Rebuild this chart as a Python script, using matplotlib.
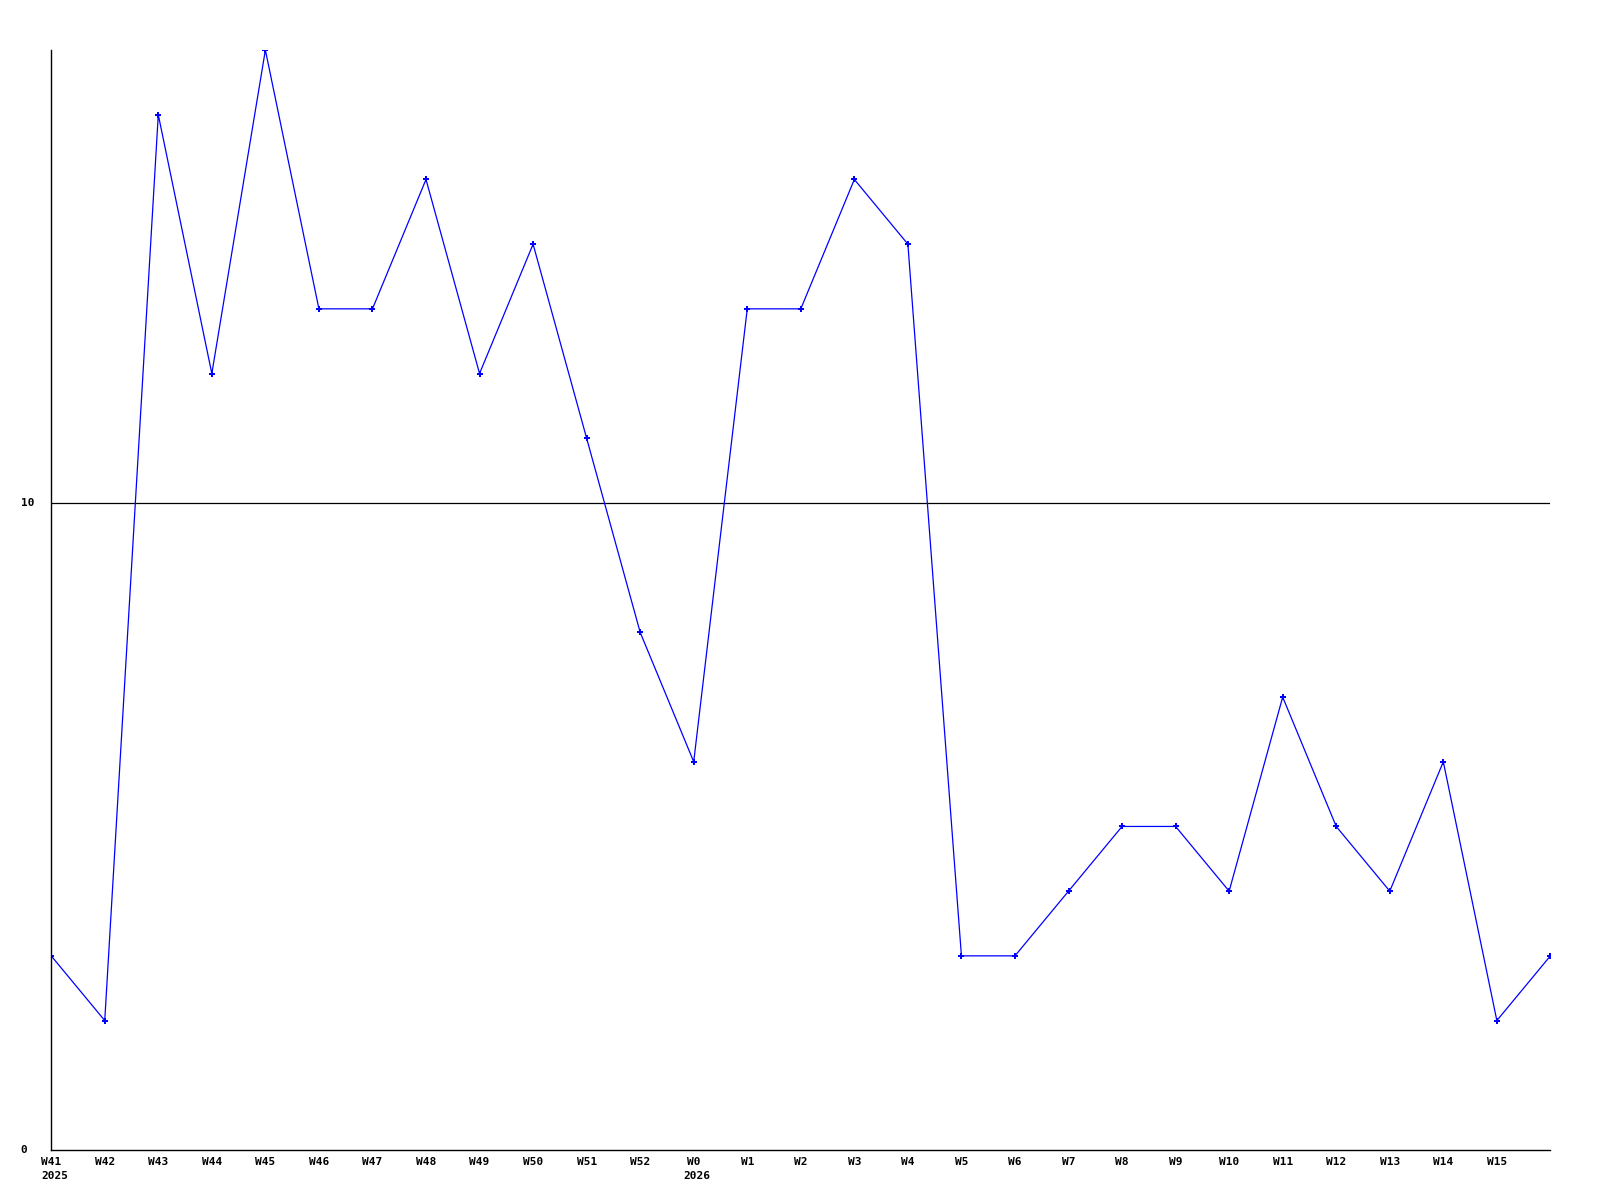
import matplotlib
matplotlib.use("Agg")
import matplotlib.pyplot as plt
from matplotlib import transforms

weeks = ["W41", "W42", "W43", "W44", "W45", "W46", "W47", "W48", "W49", "W50",
         "W51", "W52", "W0", "W1", "W2", "W3", "W4", "W5", "W6", "W7",
         "W8", "W9", "W10", "W11", "W12", "W13", "W14", "W15", ""]
years = {0: "2025", 12: "2026"}
values = [3, 2, 16, 12, 17, 13, 13, 15, 12, 14,
          11, 8, 6, 13, 13, 15, 14, 3, 3, 4,
          5, 5, 4, 7, 5, 4, 6, 2, 3]

fig = plt.figure(figsize=(16, 12), dpi=100)
ax = fig.add_axes([0.032, 0.0417, 0.937, 0.9166])

x = list(range(len(values)))
ax.plot(x, values, color="blue", linewidth=0.9, marker="P", markersize=4,
        markeredgewidth=0)
ax.axhline(10, color="black", linewidth=0.9, zorder=0)

ax.set_xlim(0, len(values) - 1)
ax.set_ylim(0, 17)
ax.spines["top"].set_visible(False)
ax.spines["right"].set_visible(False)
for s in ("left", "bottom"):
    ax.spines[s].set_linewidth(1.0)

font = dict(family="DejaVu Sans Mono", weight="bold", size=8)
ax.set_xticks(x)
ax.set_xticklabels(weeks, ha="center", va="top", **font)
ax.set_yticks([])
ax.tick_params(length=0, pad=5)

# year under the week label, lined up with its left edge
yr_tr = transforms.offset_copy(ax.get_xaxis_transform(), fig=fig, x=-10, y=-21, units="dots")
for i, yr in years.items():
    ax.text(x[i], 0, yr, transform=yr_tr, ha="left", va="top", **font)

# y labels left aligned near the figure edge
ytr = transforms.blended_transform_factory(fig.transFigure, ax.transData)
for v in [0, 10]:
    ax.text(20.5 / 1600, v, str(v), transform=ytr, ha="left", va="center", **font)

fig.savefig("out.png", dpi=100)
